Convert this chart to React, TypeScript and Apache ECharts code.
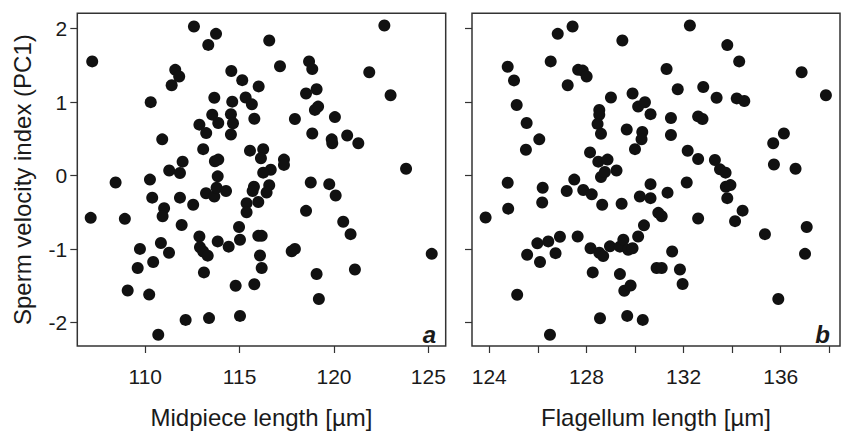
import React, { useEffect, useRef } from "react";
import * as echarts from "echarts";

const midpieceX = [
  107.19, 112.58, 113.75, 113.34, 111.59, 111.8, 111.4, 114.56, 115.14, 116.01,
  110.29, 113.66, 114.61, 115.32, 115.65, 115.78, 113.55, 113.87, 114.54, 114.65,
  114.54, 112.87, 113.23, 110.9, 113.07, 113.69, 113.87, 111.98, 111.27, 111.84,
  113.84, 115.55, 116.25, 116.13, 116.65, 116.25, 117.35, 117.35, 116.57, 117.14,
  117.93, 118.52, 119.08, 118.68, 118.85, 118.99, 119.16, 118.85, 120.05, 119.88,
  119.91, 120.7, 121.29, 121.87, 122.67, 123.0, 123.82, 118.77, 119.75, 120.09,
  118.52, 108.43, 110.25, 110.37, 111.0, 110.92, 111.84, 112.54, 113.22, 113.66,
  113.78, 114.28, 115.37, 115.37, 115.99, 115.76, 115.69, 116.57, 116.43, 107.11,
  108.92, 111.93, 109.72, 110.83, 111.26, 110.42, 109.6, 109.07, 110.21, 112.14,
  113.38, 110.69, 115.02, 112.87, 112.9, 113.07, 113.31, 113.11, 113.84, 114.42,
  114.97, 115.02, 115.99, 116.17, 116.08, 116.17, 114.79, 115.78, 120.49, 120.88,
  117.76, 117.93, 125.18, 119.08, 121.11, 119.2,
];
const midpieceY = [
  1.555, 2.03, 1.93, 1.78, 1.44, 1.35, 1.23, 1.425, 1.3, 1.215,
  1.0, 1.06, 1.007, 1.064, 0.97, 0.775, 0.83, 0.717, 0.837, 0.713,
  0.56, 0.694, 0.579, 0.494, 0.36, 0.196, 0.218, 0.19, 0.07, 0.035,
  -0.01, 0.34, 0.36, 0.236, 0.08, 0.04, 0.218, 0.146, 1.84, 1.49,
  0.77, 1.118, 1.175, 1.555, 1.45, 0.895, 0.94, 0.574, 0.797, 0.494,
  0.44, 0.547, 0.44, 1.408, 2.044, 1.095, 0.093, -0.094, -0.116, -0.27,
  -0.48, -0.094, -0.054, -0.3, -0.445, -0.553, -0.3, -0.396, -0.24, -0.285,
  -0.165, -0.21, -0.375, -0.5, -0.36, -0.152, -0.21, -0.13, -0.23, -0.575,
  -0.589, -0.673, -0.998, -0.917, -1.05, -1.177, -1.257, -1.564, -1.62, -1.965,
  -1.94, -2.166, -1.91, -0.83, -0.976, -1.034, -1.09, -1.318, -0.896, -0.967,
  -0.7, -0.873, -0.82, -0.82, -1.087, -1.257, -1.5, -1.48, -0.628, -0.797,
  -1.03, -0.998, -1.065, -1.34, -1.278, -1.68,
];

const flagellumX = [
  124.76, 125.02, 125.13, 125.54, 126.06, 125.51, 124.76, 124.78, 123.85, 126.53,
  126.82, 127.43, 127.23, 127.66, 127.85, 128.01, 129.48, 129.01, 129.9, 130.13,
  130.41, 130.64, 128.53, 128.53, 128.46, 128.6, 129.66, 130.3, 130.27, 130.0,
  128.15, 128.49, 128.87, 128.6, 128.76, 129.24, 127.5, 127.19, 127.87, 128.22,
  128.65, 129.45, 126.2, 126.18, 130.2, 130.64, 130.64, 131.34, 131.48, 131.48,
  131.3, 131.76, 132.26, 132.81, 133.36, 132.6, 132.78, 132.17, 132.6, 133.29,
  133.5, 133.73, 133.8, 134.29, 134.19, 134.5, 132.13, 133.74, 133.93, 133.8,
  134.43, 135.69, 136.13, 135.72, 136.61, 136.86, 137.86, 130.96, 131.1, 132.6,
  134.12, 130.37, 135.35, 137.07, 137.0, 135.9, 125.98, 126.43, 126.91, 127.64,
  125.56, 126.09, 126.73, 125.15, 126.5, 128.17, 128.53, 128.69, 128.97, 129.38,
  129.52, 129.72, 129.9, 130.13, 131.53, 130.89, 131.1, 131.85, 131.96, 128.26,
  129.38, 129.56, 129.82, 128.56, 129.68, 130.32,
];
const flagellumY = [
  1.483, 1.296, 0.962, 0.717, 0.494, 0.352, -0.098, -0.45, -0.57, 1.555,
  1.93, 2.03, 1.23, 1.44, 1.43, 1.35, 1.84, 1.064, 1.118, 0.94,
  0.998, 0.837, 0.895, 0.828, 0.704, 0.57, 0.628, 0.593, 0.494, 0.36,
  0.316, 0.19, 0.218, -0.018, 0.049, 0.07, -0.054, -0.21, -0.196, -0.255,
  -0.396, -0.383, -0.165, -0.366, -0.285, -0.307, -0.116, -0.232, 0.784, 0.552,
  1.452, 1.175, 2.044, 1.207, 1.06, 0.806, 0.77, 0.338, 0.227, 0.213,
  0.085, 0.04, 1.777, 1.555, 1.051, 1.015, -0.094, -0.152, -0.129, -0.307,
  -0.477, 0.44, 0.574, 0.152, 0.093, 1.408, 1.095, -0.507, -0.553, -0.584,
  -0.62, -0.677, -0.797, -0.7, -1.065, -1.68, -0.922, -0.896, -0.833, -0.829,
  -1.078, -1.177, -1.056, -1.622, -2.166, -0.99, -1.05, -1.096, -0.963, -0.967,
  -0.873, -1.011, -0.99, -0.829, -1.034, -1.257, -1.257, -1.278, -1.475, -1.318,
  -1.341, -1.568, -1.497, -1.942, -1.91, -1.965,
];

const yTicks = [-2, -1, 0, 1, 2];
const midpieceTicks = [110, 115, 120, 125];
const flagellumTicks = [124, 126, 128, 130, 132, 134, 136, 138];
const flagellumLabels = [124, 128, 132, 136];

const yTitle = "Sperm velocity index (PC1)";
const xTitleA = "Midpiece length [µm]";
const xTitleB = "Flagellum length [µm]";
const panelLabels = ["a", "b"];

const FONT = "'Liberation Sans', Arial, Helvetica, sans-serif";
const INK = "#1a1a1a";
const LINE = "#333";

export default function App() {
  const ref = useRef<HTMLDivElement>(null);
  useEffect(() => {
    if (!ref.current) return;
    const chart = echarts.init(ref.current, null, { renderer: "svg" });
    const tickStyle = { show: true, inside: false, length: 7, lineStyle: { color: LINE, width: 1.2 } };
    const labelStyle = { color: INK, fontSize: 21, fontFamily: FONT };
    const nameStyle = { color: INK, fontSize: 24, fontFamily: FONT };
    const hiddenLine = { show: false, onZero: false };
    chart.setOption({
      animation: false,
      backgroundColor: "#fff",
      grid: [
        { left: 77.3, top: 13.3, width: 368.4, height: 339, show: true, borderColor: LINE, borderWidth: 1.5 },
        { left: 472, top: 13.3, width: 368, height: 339, show: true, borderColor: LINE, borderWidth: 1.5 },
      ],
      xAxis: [
        {
          gridIndex: 0, type: "value", min: 106.4, max: 125.92, position: "bottom",
          axisLine: hiddenLine, splitLine: { show: false },
          axisTick: { ...tickStyle, customValues: midpieceTicks },
          axisLabel: { ...labelStyle, margin: 20, customValues: midpieceTicks },
          name: xTitleA, nameLocation: "middle", nameGap: 59, nameTextStyle: nameStyle,
        },
        {
          gridIndex: 1, type: "value", min: 123.29, max: 138.44, position: "bottom",
          axisLine: hiddenLine, splitLine: { show: false },
          axisTick: { ...tickStyle, customValues: flagellumTicks },
          axisLabel: { ...labelStyle, margin: 20, customValues: flagellumLabels },
          name: xTitleB, nameLocation: "middle", nameGap: 59, nameTextStyle: nameStyle,
        },
      ],
      yAxis: [
        {
          gridIndex: 0, type: "value", min: -2.32, max: 2.21, position: "left",
          axisLine: hiddenLine, splitLine: { show: false },
          axisTick: { ...tickStyle, customValues: yTicks },
          axisLabel: { ...labelStyle, margin: 10, customValues: yTicks },
          name: yTitle, nameLocation: "middle", nameGap: 43, nameTextStyle: nameStyle,
        },
        {
          gridIndex: 1, type: "value", min: -2.32, max: 2.21, position: "left",
          axisLine: hiddenLine, splitLine: { show: false },
          axisTick: { ...tickStyle, customValues: yTicks },
          axisLabel: { show: false },
        },
      ],
      series: [
        {
          type: "scatter", xAxisIndex: 0, yAxisIndex: 0, symbolSize: 12,
          itemStyle: { color: "#111", opacity: 1 },
          data: midpieceX.map((x, i) => [x, midpieceY[i]]),
        },
        {
          type: "scatter", xAxisIndex: 1, yAxisIndex: 1, symbolSize: 12,
          itemStyle: { color: "#111", opacity: 1 },
          data: flagellumX.map((x, i) => [x, flagellumY[i]]),
        },
      ],
      graphic: [
        {
          type: "text", x: 436, y: 346,
          style: { text: panelLabels[0], fontSize: 24, fontWeight: "bold", fontStyle: "italic", fontFamily: FONT, fill: INK, align: "right", verticalAlign: "bottom" },
        },
        {
          type: "text", x: 830, y: 346,
          style: { text: panelLabels[1], fontSize: 24, fontWeight: "bold", fontStyle: "italic", fontFamily: FONT, fill: INK, align: "right", verticalAlign: "bottom" },
        },
      ],
    });
    return () => chart.dispose();
  }, []);
  return <div ref={ref} style={{ position: "absolute", left: 0, top: 0, width: 841, height: 434 }} />;
}
